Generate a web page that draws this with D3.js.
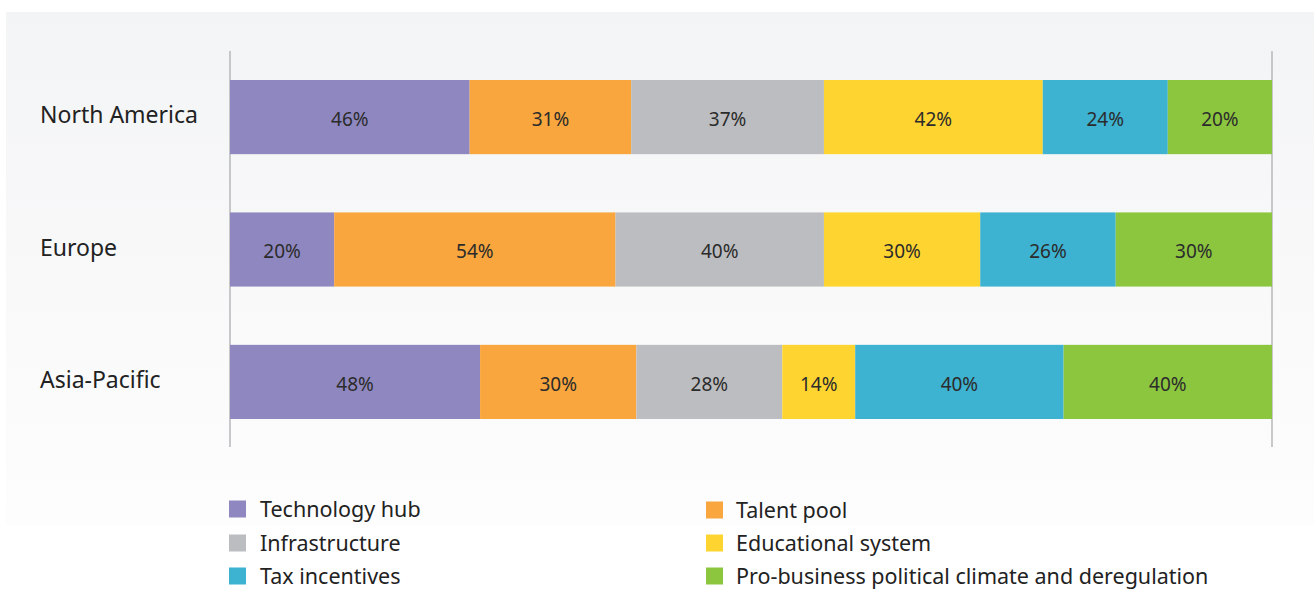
<!DOCTYPE html>
<html><head><meta charset="utf-8">
<script src="https://cdn.jsdelivr.net/npm/d3@7"></script>
<style>html,body{margin:0;padding:0;background:#fff;}svg{display:block;}</style>
</head><body>
<svg id="chart" width="1314" height="592"></svg>
<script>
const regions = ["North America", "Europe", "Asia-Pacific"];
const factors = ["Technology hub", "Talent pool", "Infrastructure", "Educational system", "Tax incentives", "Pro-business political climate and deregulation"];
const technologyHub = [46, 20, 48];
const talentPool = [31, 54, 30];
const infrastructure = [37, 40, 28];
const educationalSystem = [42, 30, 14];
const taxIncentives = [24, 26, 40];
const proBusiness = [20, 30, 40];
const colors = ["#8f88c0", "#f8a63d", "#bcbdc0", "#fed530", "#3db2d1", "#8cc63f"];

const seriesValues = [technologyHub, talentPool, infrastructure, educationalSystem, taxIncentives, proBusiness];
const rows = regions.map((r, i) => {
  const o = {region: r};
  factors.forEach((f, j) => o[f] = seriesValues[j][i]);
  return o;
});
const stack = d3.stack().keys(factors)(rows);
const font = "'Noto Sans', 'Open Sans', sans-serif";

const svg = d3.select("#chart");
const defs = svg.append("defs");
const grad = defs.append("linearGradient").attr("id", "bg").attr("x1", 0).attr("y1", 0).attr("x2", 0).attr("y2", 1);
grad.append("stop").attr("offset", "0%").attr("stop-color", "#f3f4f5");
grad.append("stop").attr("offset", "100%").attr("stop-color", "#fdfdfd");
svg.append("rect").attr("x", 6).attr("y", 12).attr("width", 1308).attr("height", 513).attr("fill", "url(#bg)");

const x = d3.scaleLinear().domain([0, 200]).range([230, 1272]);
const y = d3.scaleBand().domain(regions).range([80, 419]).paddingInner(0.44).paddingOuter(0);

// frame lines
svg.append("g").selectAll("line").data(x.domain()).join("line")
  .attr("x1", d => x(d)).attr("x2", d => x(d)).attr("y1", 51).attr("y2", 447)
  .attr("stroke", "#bbbcbe").attr("stroke-width", 1.6);

const layers = svg.append("g").selectAll("g").data(stack).join("g").attr("fill", (d, i) => colors[i]);
layers.selectAll("rect").data(d => d).join("rect")
  .attr("x", d => x(d[0])).attr("width", d => x(d[1]) - x(d[0]))
  .attr("y", d => y(d.data.region)).attr("height", y.bandwidth());

const labels = svg.append("g").selectAll("g").data(stack).join("g");
labels.selectAll("text").data(d => d.map(s => ({s, v: s[1] - s[0]}))).join("text")
  .attr("x", d => (x(d.s[0]) + x(d.s[1])) / 2)
  .attr("y", d => y(d.s.data.region) + y.bandwidth() / 2 + 2)
  .attr("dy", "0.36em").attr("text-anchor", "middle")
  .attr("font-family", font).attr("font-size", 19).attr("fill", "#2b2b2b")
  .text(d => d.v + "%");

// category labels
svg.append("g").selectAll("text").data(regions).join("text")
  .attr("x", 40).attr("y", d => y(d) + y.bandwidth() / 2 - 2).attr("dy", "0.36em")
  .attr("font-family", font).attr("font-size", 23).attr("fill", "#222")
  .text(d => d);

// legend
const legendPos = [[229, 509], [706, 510], [229, 543], [706, 543], [229, 576], [706, 576]];
const lg = svg.append("g").selectAll("g").data(factors).join("g")
  .attr("transform", (d, i) => `translate(${legendPos[i][0]},${legendPos[i][1]})`);
lg.append("rect").attr("x", 0).attr("y", -8.5).attr("width", 17).attr("height", 17).attr("fill", (d, i) => colors[i]);
lg.append("text").attr("x", (d, i) => i % 2 === 0 ? 31 : 30).attr("y", 0).attr("dy", "0.36em")
  .attr("font-family", font).attr("font-size", 21.5).attr("fill", "#222").text(d => d);
</script>
</body></html>
